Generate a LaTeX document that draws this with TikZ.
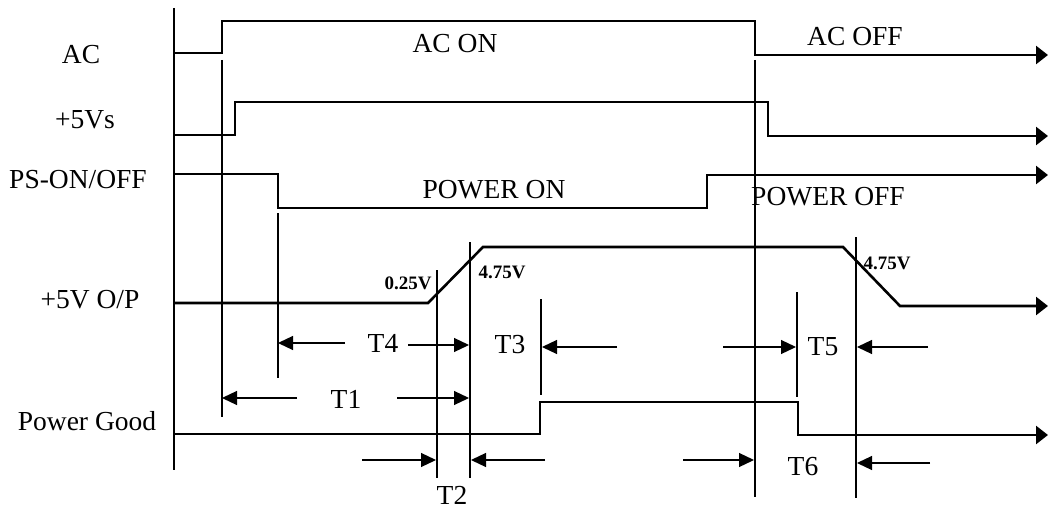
\documentclass[tikz,border=0pt]{standalone}
\usepackage{fontspec}
\setmainfont{Liberation Serif}
\usetikzlibrary{arrows.meta}
\begin{document}
\begin{tikzpicture}[x=1pt,y=-1pt,
  sig/.style={line width=2.6pt,line join=miter},
  sigend/.style={sig,-{Triangle[length=12pt,width=18pt]}},
  guide/.style={line width=1.3pt},
  mark2/.style={line width=2.2pt},
  dim/.style={line width=1.2pt,-{Triangle[length=15pt,width=14pt]}},
  lbl/.style={inner sep=0pt,font=\fontsize{27.5}{32}\selectfont},
  vlbl/.style={inner sep=0pt,font=\bfseries\fontsize{19}{22}\selectfont}]
\useasboundingbox (0,0) rectangle (1050,508);
% axis
\draw[line width=1.6pt] (174,8) -- (174,135);
\draw[line width=2.6pt] (174,135) -- (174,470);
% coordinates
\coordinate (ac0) at (174,53); \coordinate (ac1) at (222,53); \coordinate (ac2) at (222,21);
\coordinate (ac3) at (755,21); \coordinate (ac4) at (755,55); \coordinate (ac5) at (1048,55);
\coordinate (vs0) at (174,135); \coordinate (vs1) at (235,135); \coordinate (vs2) at (235,102);
\coordinate (vs3) at (768,102); \coordinate (vs4) at (768,136); \coordinate (vs5) at (1048,136);
\coordinate (ps0) at (174,174); \coordinate (ps1) at (278,174); \coordinate (ps2) at (278,208);
\coordinate (ps3) at (707,208); \coordinate (ps4) at (707,175); \coordinate (ps5) at (1048,175);
\coordinate (op0) at (174,303); \coordinate (op1) at (428,303); \coordinate (op2) at (483,247);
\coordinate (op3) at (843,247); \coordinate (op4) at (900,306); \coordinate (op5) at (1048,306);
\coordinate (pg0) at (174,434); \coordinate (pg1) at (540,434); \coordinate (pg2) at (540,402);
\coordinate (pg3) at (798,402); \coordinate (pg4) at (798,435); \coordinate (pg5) at (1048,435);
% signals
\draw[sigend] (ac0) -- (ac1) -- (ac2) -- (ac3) -- (ac4) -- (ac5);
\draw[sigend] (vs0) -- (vs1) -- (vs2) -- (vs3) -- (vs4) -- (vs5);
\draw[sigend] (ps0) -- (ps1) -- (ps2) -- (ps3) -- (ps4) -- (ps5);
\draw[sigend] (op0) -- (op1) -- (op2) -- (op3) -- (op4) -- (op5);
\draw[sigend] (pg0) -- (pg1) -- (pg2) -- (pg3) -- (pg4) -- (pg5);
% guide lines
\coordinate (g1a) at (222,60);  \coordinate (g1b) at (222,417);
\coordinate (g4a) at (278,213); \coordinate (g4b) at (278,378);
\coordinate (g2a) at (437,270); \coordinate (g2b) at (437,478);
\coordinate (g3a) at (470,242); \coordinate (g3b) at (470,478);
\coordinate (g5a) at (541,299); \coordinate (g5b) at (541,395);
\coordinate (g6a) at (755,60);  \coordinate (g6b) at (755,497);
\coordinate (g7a) at (797,292); \coordinate (g7b) at (797,397);
\coordinate (g8a) at (856,237); \coordinate (g8b) at (856,498);
\draw[guide] (g1a) -- (g1b);
\draw[guide] (g4a) -- (g4b);
\draw[guide] (g2a) -- (g2b);
\draw[guide] (g3a) -- (g3b);
\draw[mark2] (g5a) -- (g5b);
\draw[guide] (g6a) -- (g6b);
\draw[mark2] (g7a) -- (g7b);
\draw[guide] (g8a) -- (g8b);
% dimension arrows
\coordinate (t1l) at (297,398); \coordinate (t1le) at (222,398);
\coordinate (t1r) at (397,398); \coordinate (t1re) at (469,398);
\coordinate (t4l) at (345,343); \coordinate (t4le) at (278,343);
\coordinate (t4r) at (408,345); \coordinate (t4re) at (469,345);
\coordinate (t3r) at (617,347); \coordinate (t3re) at (542,347);
\coordinate (t2l) at (362,460); \coordinate (t2le) at (436,460);
\coordinate (t2r) at (545,460); \coordinate (t2re) at (471,460);
\coordinate (t5l) at (723,347); \coordinate (t5le) at (796,347);
\coordinate (t5r) at (928,347); \coordinate (t5re) at (857,347);
\coordinate (t6l) at (683,460); \coordinate (t6le) at (754,460);
\coordinate (t6r) at (930,463); \coordinate (t6re) at (857,463);
\draw[dim] (t1l) -- (t1le);
\draw[dim] (t1r) -- (t1re);
\draw[dim] (t4l) -- (t4le);
\draw[dim] (t4r) -- (t4re);
\draw[dim] (t3r) -- (t3re);
\draw[dim] (t2l) -- (t2le);
\draw[dim] (t2r) -- (t2re);
\draw[dim] (t5l) -- (t5le);
\draw[dim] (t5r) -- (t5re);
\draw[dim] (t6l) -- (t6le);
\draw[dim] (t6r) -- (t6re);
% labels
\node[lbl] (lac) at (81,55) {AC};
\node[lbl] (lvs) at (85,120) {+5Vs};
\node[lbl] (lps) at (78,180) {PS-ON/OFF};
\node[lbl] (lop) at (90,300) {+5V O/P};
\node[lbl] (lpg) at (87,421) {Power Good};
\node[lbl] (acon) at (455,44) {AC ON};
\node[lbl] (acoff) at (855,37) {AC OFF};
\node[lbl] (pon) at (494,190) {POWER ON};
\node[lbl] (poff) at (828,197) {POWER OFF};
\node[vlbl] (v025) at (408,283) {0.25V};
\node[vlbl] (v475a) at (502,272) {4.75V};
\node[vlbl] (v475b) at (887,263) {4.75V};
\node[lbl] (lt1) at (346,399) {T1};
\node[lbl] (lt4) at (383,343) {T4};
\node[lbl] (lt3) at (510,345) {T3};
\node[lbl] (lt2) at (452,495) {T2};
\node[lbl] (lt5) at (823,347) {T5};
\node[lbl] (lt6) at (803,467) {T6};
\end{tikzpicture}
\end{document}
